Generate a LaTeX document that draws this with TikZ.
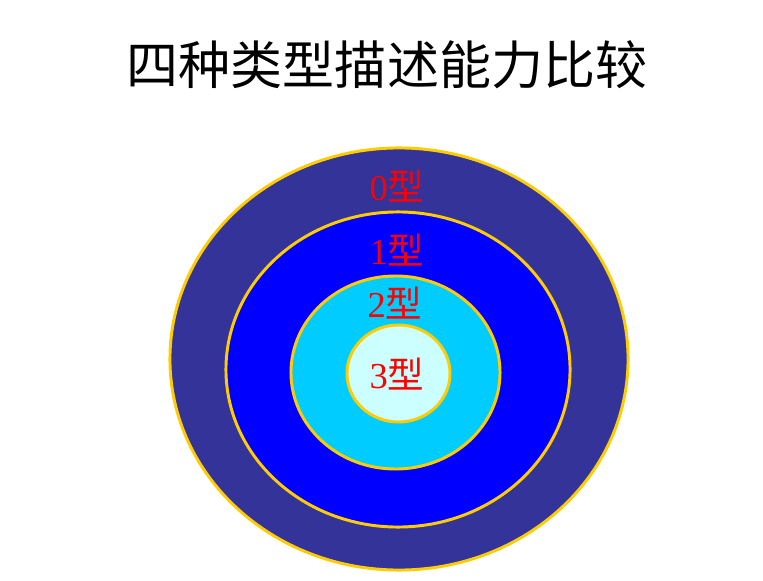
\documentclass[tikz,border=0pt]{standalone}
\usepackage{fontspec}
\setmainfont{Liberation Serif}
\newfontfamily\cjk{Noto Sans CJK SC}
\usetikzlibrary{shapes.geometric,positioning}
\definecolor{navy}{RGB}{51,51,153}
\definecolor{royal}{RGB}{0,0,255}
\definecolor{sky}{RGB}{0,204,255}
\definecolor{ice}{RGB}{204,255,255}
\definecolor{gold}{RGB}{255,204,0}
\tikzset{
  ring/.style={ellipse,draw=gold,line width=2.1pt,fill=#1,inner sep=0pt},
  ring/.default=navy,
  lvl/.style={text=red,font=\fontsize{26}{28}\selectfont,inner sep=0pt},
  headline/.style={font=\cjk\fontsize{37}{40}\selectfont,inner sep=0pt},
}
\begin{document}
\begin{tikzpicture}[x=0.025cm,y=0.025cm]
  \useasboundingbox (0,0) rectangle (763,580);
  % title
  \node[headline] (title) at (387,515) {四种类型描述能力比较};
  % nested grammar classes
  \node[ring=navy,minimum width=11.45cm,minimum height=10.55cm] (t0) at (399,221) {};
  \node[ring=royal,minimum width=8.6cm,minimum height=7.875cm] (t1) at (398,210.5) {};
  \node[ring=sky,minimum width=5.225cm,minimum height=4.825cm] (t2) at (395.5,207.5) {};
  \node[ring=ice,minimum width=2.575cm,minimum height=2.425cm] (t3) at (398.5,206.5) {};
  % labels
  \node[lvl] (l0) at (397,394) {0{\cjk 型}};
  \node[lvl] (l1) at (397,330) {1{\cjk 型}};
  \node[lvl] (l2) at (395,277) {2{\cjk 型}};
  \node[lvl] (l3) at (397,206) {3{\cjk 型}};
\end{tikzpicture}
\end{document}
